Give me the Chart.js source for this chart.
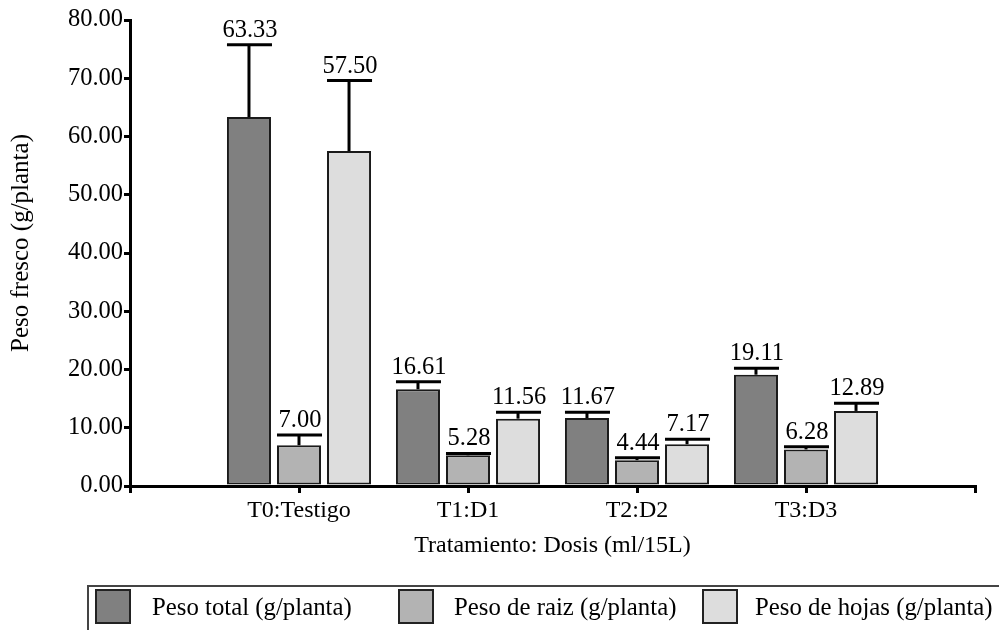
<!DOCTYPE html>
<html>
<head>
<meta charset="utf-8">
<script src="https://cdn.jsdelivr.net/npm/chart.js@4/dist/chart.umd.min.js"></script>
<style>
  html, body { margin: 0; padding: 0; background: #fff; }
  canvas { display: block; }
</style>
</head>
<body>
<canvas id="c" width="999" height="630"></canvas>
<script>
// Treatments and fresh-weight measurements (g/plant)
const categories = ['T0:Testigo', 'T1:D1', 'T2:D2', 'T3:D3'];
const seriesNames = ['Peso total (g/planta)', 'Peso de raiz (g/planta)', 'Peso de hojas (g/planta)'];
const pesoTotal = [63.33, 16.61, 11.67, 19.11];
const pesoRaiz  = [7.00, 5.28, 4.44, 6.28];
const pesoHojas = [57.50, 11.56, 7.17, 12.89];
// Upper error bars (standard deviation)
const errTotal = [12.4, 1.3, 1.0, 1.1];
const errRaiz  = [1.75, 0.3, 0.4, 0.45];
const errHojas = [12.1, 1.1, 0.85, 1.3];
const yTicks = [0, 10, 20, 30, 40, 50, 60, 70, 80];
const yTitle = 'Peso fresco (g/planta)';
const xTitle = 'Tratamiento: Dosis (ml/15L)';

const fills = ['#808080', '#b3b3b3', '#dddddd'];
const FAMILY = 'Liberation Serif';
const cssFont = size => size + 'px "' + FAMILY + '"';

// Touch the serif face once so it is resolved before the chart draws
(function warmFont() {
  const scratch = document.createElement('canvas').getContext('2d');
  scratch.font = cssFont(24);
  scratch.fillText('Peso 0.00', 0, 20);
})();

// The axis leaves one empty slot on each side of the treatments
const pad = arr => [null, ...arr, null];
const labels = ['', ...categories, ''];

const datasets = [pesoTotal, pesoRaiz, pesoHojas].map((vals, k) => ({
  label: seriesNames[k],
  data: pad(vals),
  errors: pad([errTotal, errRaiz, errHojas][k]),
  backgroundColor: fills[k],
  borderColor: '#1a1a1a',
  borderWidth: 2,
  borderSkipped: false,
  categoryPercentage: 0.888,
  barPercentage: 0.88
}));

// Error bars with value labels above each cap
const errorBars = {
  id: 'errorBars',
  afterDatasetsDraw(chart) {
    const ctx = chart.ctx;
    const ys = chart.scales.y;
    chart.data.datasets.forEach((ds, di) => {
      const meta = chart.getDatasetMeta(di);
      meta.data.forEach((bar, i) => {
        const v = ds.data[i];
        if (v == null) return;
        const top = ys.getPixelForValue(v + ds.errors[i]);
        const w = bar.width;
        ctx.save();
        ctx.strokeStyle = '#000';
        ctx.lineWidth = 3;
        ctx.beginPath();
        ctx.moveTo(bar.x, bar.y);
        ctx.lineTo(bar.x, top);
        ctx.stroke();
        ctx.beginPath();
        ctx.moveTo(bar.x - w / 2, top);
        ctx.lineTo(bar.x + w / 2 + 1, top);
        ctx.stroke();
        ctx.fillStyle = '#000';
        ctx.font = cssFont(24.5);
        ctx.textAlign = 'center';
        ctx.textBaseline = 'alphabetic';
        ctx.fillText(v.toFixed(2), bar.x + 1, top - 8);
        ctx.restore();
      });
    });
  }
};

// Rotated y-axis title and framed legend along the bottom
const decorations = {
  id: 'decorations',
  afterDraw(chart) {
    const ctx = chart.ctx;
    ctx.save();
    ctx.translate(21, 243);
    ctx.rotate(-Math.PI / 2);
    ctx.fillStyle = '#000';
    ctx.font = cssFont(25);
    ctx.textAlign = 'center';
    ctx.textBaseline = 'middle';
    ctx.fillText(yTitle, 0, 0);
    ctx.restore();

    ctx.save();
    ctx.strokeStyle = '#444';
    ctx.lineWidth = 2;
    ctx.strokeRect(88, 586, 940, 80);
    const boxX = [95, 398, 702];
    const textX = [152, 454, 755];
    chart.data.datasets.forEach((ds, k) => {
      ctx.fillStyle = ds.backgroundColor;
      ctx.fillRect(boxX[k], 589, 36, 35);
      ctx.strokeStyle = '#222';
      ctx.lineWidth = 2;
      ctx.strokeRect(boxX[k] + 1, 590, 34, 33);
      ctx.fillStyle = '#000';
      ctx.font = cssFont(24.8);
      ctx.textAlign = 'left';
      ctx.textBaseline = 'alphabetic';
      ctx.fillText(ds.label, textX[k], 615);
    });
    ctx.restore();
  }
};

const tickFont = { family: FAMILY, size: 24 };

const chart = new Chart(document.getElementById('c'), {
  type: 'bar',
  data: { labels, datasets },
  plugins: [errorBars, decorations],
  options: {
    responsive: false,
    animation: false,
    devicePixelRatio: 1,
    font: { family: FAMILY },
    layout: { padding: { left: 0, right: 24, top: 20, bottom: 69 } },
    plugins: { legend: { display: false }, tooltip: { enabled: false } },
    scales: {
      x: {
        type: 'category',
        offset: false,
        grid: { display: true, offset: false, drawOnChartArea: false, drawTicks: true, tickLength: 7, color: '#000', lineWidth: 3 },
        border: { display: true, color: '#000', width: 3 },
        ticks: { color: '#000', font: tickFont, padding: 3, maxRotation: 0, autoSkip: false },
        title: { display: true, text: xTitle, color: '#000', font: { family: FAMILY, size: 24 }, padding: { top: 0, bottom: 1 } },
        afterFit(s) { s.height = 75; }
      },
      y: {
        min: 0,
        max: 80,
        afterBuildTicks(s) { s.ticks = yTicks.map(v => ({ value: v })); },
        grid: { display: true, drawOnChartArea: false, drawTicks: true, tickLength: 6, color: '#000', lineWidth: 3 },
        border: { display: true, color: '#000', width: 3 },
        ticks: { color: '#000', font: { family: FAMILY, size: 24.5 }, padding: 1, callback: v => Number(v).toFixed(2) },
        afterFit(s) { s.width = 130; }
      }
    }
  }
});
// Redraw once more after the first frame in case the face resolved late
setTimeout(() => chart.update('none'), 60);
</script>
</body>
</html>
